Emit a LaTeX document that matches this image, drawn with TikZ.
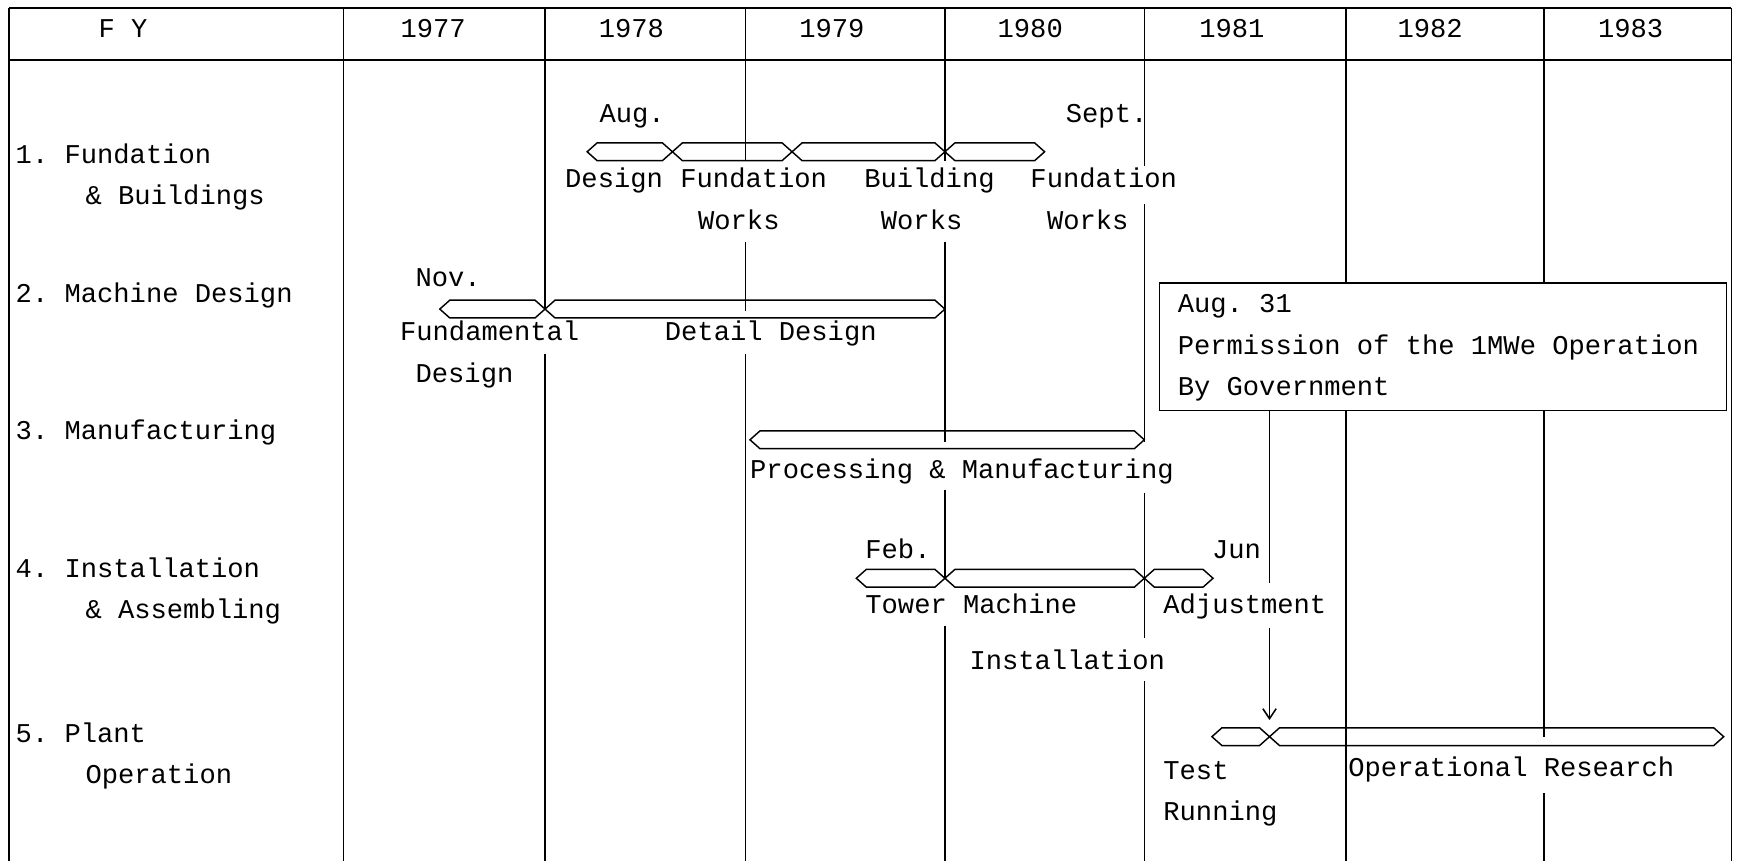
\documentclass[tikz,border=0pt]{standalone}
\usepackage{fontspec}
\setmonofont{Liberation Mono}
\usetikzlibrary{arrows.meta}
\newcommand\hexseg[3]{\draw[barline] (#1,#3) -- ({#1+9},{#3-8}) -- ({#2-9},{#3-8}) -- (#2,#3) -- ({#2-9},{#3+8}) -- ({#1+9},{#3+8}) -- cycle;}
\begin{document}
\begin{tikzpicture}[x=1pt,y=-1pt,
  grid/.style={line width=1.4pt},
  barline/.style={line width=1.3pt, line join=miter},
  txt/.style={font=\ttfamily\fontsize{24.5}{30}\selectfont, inner sep=0pt, anchor=base west},
  yr/.style={font=\ttfamily\fontsize{24.5}{30}\selectfont, inner sep=0pt, anchor=base}]
\useasboundingbox (0,0) rectangle (1568,777);
% grid
\draw[grid] (8,7) -- (1563,7);
\draw[grid] (8,54) -- (1563,54);
\draw[grid] (8,7) -- (8,777);
\draw[grid] (310,7) -- (310,777);
\draw[grid] (492,7) -- (492,279) (492,320) -- (492,777);
\draw[grid] (673,7) -- (673,145) (673,218) -- (673,281) (673,320) -- (673,777);
\draw[grid] (853,7) -- (853,145) (853,218) -- (853,399) (853,442) -- (853,522) (853,565) -- (853,777);
\draw[grid] (1033,7) -- (1033,150) (1033,184) -- (1033,399) (1033,445) -- (1033,576) (1033,615) -- (1033,777);
\draw[grid] (1215,7) -- (1215,777);
\draw[grid] (1394,7) -- (1394,665) (1394,716) -- (1394,777);
\draw[grid] (1563,7) -- (1563,777);
% callout box
\node[grid, draw, fill=white, anchor=north west, inner sep=0pt, minimum width=512pt, minimum height=115pt] (box) at (1046,255) {};
\node[txt] (b1) at (1063,282) {Aug. 31};
\node[txt] (b2) at (1063,320) {Permission of the 1MWe Operation};
\node[txt] (b3) at (1063,357) {By Government};
% arrow
\coordinate (tip) at (1146,650);
\coordinate (gapA) at (1146,526);
\coordinate (gapB) at (1146,567);
\draw[grid] (box.south -| tip) -- (gapA);
\draw[grid, -{Straight Barb[length=9pt,width=12pt]}] (gapB) -- (tip);
% header
\node[yr] (fy) at (111,34) {F Y};
\node[yr] (y77) at (391,34) {1977};
\node[yr] (y78) at (570,34) {1978};
\node[yr] (y79) at (751,34) {1979};
\node[yr] (y80) at (930,34) {1980};
\node[yr] (y81) at (1112,34) {1981};
\node[yr] (y82) at (1291,34) {1982};
\node[yr] (y83) at (1472,34) {1983};
% row labels
\node[txt] (r1a) at (14,148) {1. Fundation};
\node[txt] (r1b) at (77,185) {\& Buildings};
\node[txt] (r2) at (14,273) {2. Machine Design};
\node[txt] (r3) at (14,397) {3. Manufacturing};
\node[txt] (r4a) at (14,521) {4. Installation};
\node[txt] (r4b) at (77,558) {\& Assembling};
\node[txt] (r5a) at (14,670) {5. Plant};
\node[txt] (r5b) at (77,707) {Operation};
% bars
\hexseg{530}{607}{137}
\hexseg{607}{715}{137}
\hexseg{715}{853}{137}
\hexseg{853}{943}{137}
\hexseg{397}{492}{279}
\hexseg{492}{853}{279}
\hexseg{677}{1033}{397}
\hexseg{773}{853}{522}
\hexseg{853}{1033}{522}
\hexseg{1033}{1095}{522}
\hexseg{1094}{1146}{665}
\hexseg{1146}{1556}{665}
% bar labels
\node[txt] (aug) at (541,111) {Aug.};
\node[txt] (sept) at (962,111) {Sept.};
\node[txt] (d1) at (510,169) {Design};
\node[txt] (f1) at (614,169) {Fundation};
\node[txt] (w1) at (630,207) {Works};
\node[txt] (bu) at (780,169) {Building};
\node[txt] (w2) at (795,207) {Works};
\node[txt] (f2) at (930,169) {Fundation};
\node[txt] (w3) at (945,207) {Works};
\node[txt] (nov) at (375,259) {Nov.};
\node[txt] (fd) at (361,307) {Fundamental};
\node[txt] (fd2) at (375,345) {Design};
\node[txt] (dd) at (600,307) {Detail Design};
\node[txt] (pm) at (677,432) {Processing \& Manufacturing};
\node[txt] (feb) at (781,504) {Feb.};
\node[txt] (jun) at (1094,504) {Jun};
\node[txt] (tm) at (781,554) {Tower Machine};
\node[txt] (adj) at (1050,554) {Adjustment};
\node[txt] (inst) at (875,604) {Installation};
\node[txt] (test) at (1050,704) {Test};
\node[txt] (run) at (1050,741) {Running};
\node[txt] (opr) at (1217,701) {Operational Research};
\end{tikzpicture}
\end{document}
